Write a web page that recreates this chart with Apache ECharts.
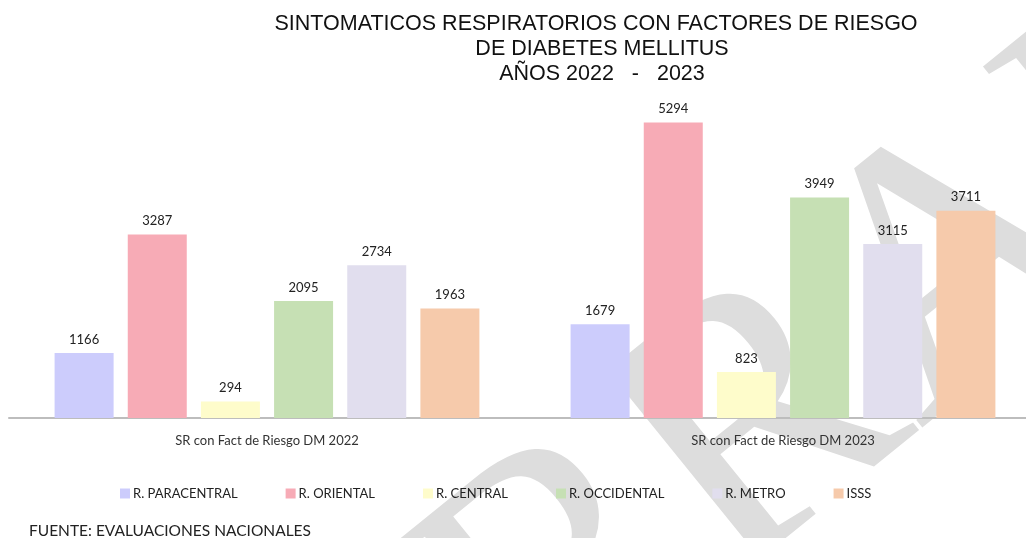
<!DOCTYPE html>
<html>
<head>
<meta charset="utf-8">
<script src="https://cdn.jsdelivr.net/npm/echarts@6/dist/echarts.min.js"></script>
<style>
  html, body { margin: 0; padding: 0; background: #fff; overflow: hidden; }
  #chart { width: 1045px; height: 538px; }
</style>
</head>
<body>
<div id="chart"></div>
<script>
var categories = ['SR con Fact de Riesgo DM 2022', 'SR con Fact de Riesgo DM 2023'];
var seriesNames = ['R. PARACENTRAL', 'R. ORIENTAL', 'R. CENTRAL', 'R. OCCIDENTAL', 'R. METRO', 'ISSS'];
var paracentral = [1166, 1679];
var oriental = [3287, 5294];
var central = [294, 823];
var occidental = [2095, 3949];
var metro = [2734, 3115];
var isss = [1963, 3711];
var colors = ['#ccccfc', '#f7abb6', '#fefccb', '#c6e0b4', '#e1deee', '#f6caab'];

var values = [paracentral, oriental, central, occidental, metro, isss];
var labelFont = 'Lato, "Open Sans", sans-serif';
var markFont = '"Liberation Serif", "DejaVu Serif", serif';

var series = [];
for (var i = 0; i < seriesNames.length; i++) {
    series.push({
        name: seriesNames[i],
        type: 'bar',
        data: values[i],
        barWidth: 59,
        barGap: '24%',
        itemStyle: {color: colors[i]},
        label: {
            show: true,
            position: 'top',
            distance: 7,
            color: '#222',
            fontSize: 13,
            fontFamily: labelFont
        },
        z: 2
    });
}

var chart = echarts.init(document.getElementById('chart'));
chart.setOption({
    animation: false,
    title: {
        text: 'SINTOMATICOS RESPIRATORIOS CON FACTORES DE RIESGO  \nDE DIABETES MELLITUS\nAÑOS 2022   -   2023',
        left: 597,
        top: 7,
        textAlign: 'center',
        textStyle: {
            fontFamily: '"Liberation Sans", Arial, sans-serif',
            fontWeight: 'normal',
            fontSize: 21.5,
            lineHeight: 25,
            color: '#111'
        }
    },
    legend: {
        data: seriesNames,
        left: 120,
        top: 487,
        padding: 0,
        itemWidth: 10,
        itemHeight: 10,
        itemGap: 48,
        icon: 'rect',
        textStyle: {fontFamily: labelFont, fontSize: 13, color: '#222', padding: [0, 0, 0, -2]}
    },
    grid: {left: 9, top: 83, width: 1032, height: 335},
    xAxis: {
        type: 'category',
        data: categories,
        axisLine: {lineStyle: {color: '#bdbdbd', width: 2}},
        axisTick: {show: false},
        axisLabel: {margin: 16, fontFamily: labelFont, fontSize: 13, color: '#333'}
    },
    yAxis: {
        type: 'value',
        min: 0,
        max: 6000,
        show: false,
        splitLine: {show: false}
    },
    graphic: [
        {
            // marca de agua, girada y detras de las barras
            type: 'group',
            x: 1066,
            y: 186,
            rotation: 39 * Math.PI / 180,
            z: -10,
            children: [
                {
                    type: 'text',
                    z: -10,
                    style: {
                        text: 'BORRA',
                        fontFamily: markFont,
                        fontSize: 370,
                        fill: '#dddddd',
                        align: 'right',
                        verticalAlign: 'middle'
                    }
                },
                {
                    type: 'text',
                    z: -10,
                    style: {
                        text: 'DOR',
                        fontFamily: markFont,
                        fontSize: 370,
                        fill: '#dddddd',
                        align: 'left',
                        verticalAlign: 'middle'
                    }
                }
            ]
        },
        {
            type: 'text',
            left: 29,
            top: 523,
            style: {
                text: 'FUENTE: EVALUACIONES NACIONALES',
                fontFamily: labelFont,
                fontSize: 15.5,
                fill: '#222'
            }
        }
    ],
    series: series
});
</script>
</body>
</html>
